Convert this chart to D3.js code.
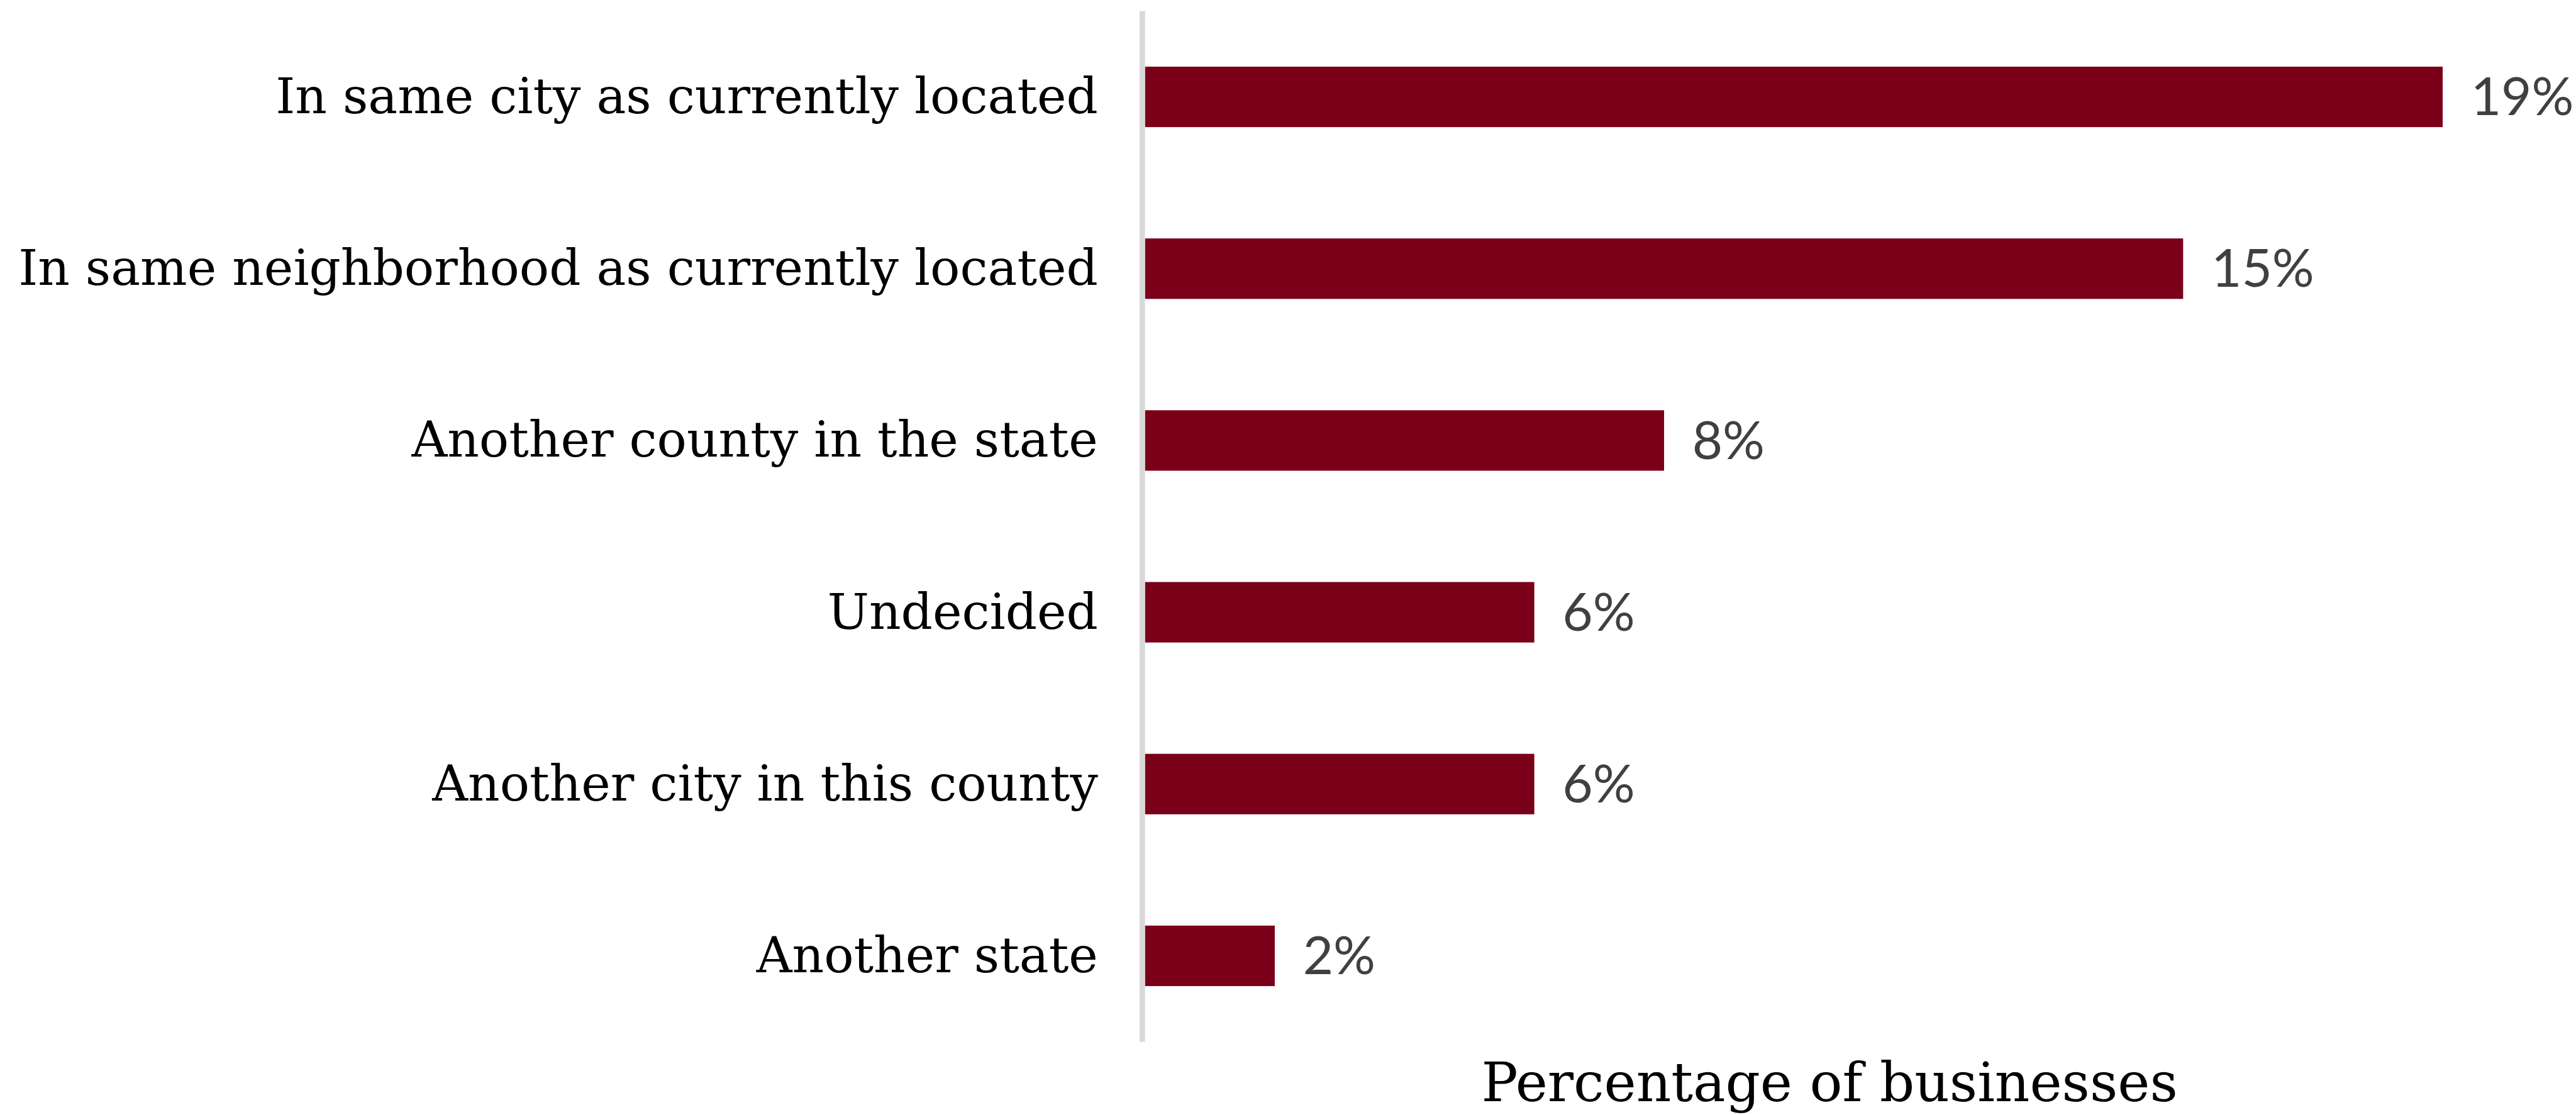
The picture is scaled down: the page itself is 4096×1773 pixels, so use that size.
<!DOCTYPE html>
<html>
<head>
<meta charset="utf-8">
<script src="https://cdn.jsdelivr.net/npm/d3@7"></script>
<style>
  html, body { margin: 0; padding: 0; background: #ffffff; }
  svg { display: block; }
</style>
</head>
<body>
<script>
// Where businesses plan to move
const categories = [
  "In same city as currently located",
  "In same neighborhood as currently located",
  "Another county in the state",
  "Undecided",
  "Another city in this county",
  "Another state"
];
const shares = [19.0, 15.2, 7.6, 5.7, 5.7, 1.9];
const axisTitle = "Percentage of businesses";

const W = 4096, H = 1773;
const k = 0.971; // drawing is laid out on a 4215 x 1825 grid, then scaled

const svg = d3.select("body").append("svg")
  .attr("width", W).attr("height", H);
const root = svg.append("g").attr("transform", `scale(${k})`);

const axisX = 1870.5;
const x = d3.scaleLinear()
  .domain([0, d3.max(shares)])
  .range([1875, 4000]);
const y = d3.scaleBand()
  .domain(categories)
  .range([18, 1706])
  .paddingInner(0.648)
  .paddingOuter(0.324);

const rows = categories.map((c, i) => ({ c, v: shares[i] }));

// bars
root.append("g").selectAll("rect")
  .data(rows)
  .join("rect")
  .attr("x", x(0))
  .attr("y", d => y(d.c))
  .attr("width", d => x(d.v) - x(0))
  .attr("height", y.bandwidth())
  .attr("fill", "#7a001a");

// value labels
const fmt = v => d3.format(".0f")(v) + "%";
root.append("g").selectAll("text")
  .data(rows)
  .join("text")
  .attr("x", d => x(d.v) + 46)
  .attr("y", d => y(d.c) + y.bandwidth() / 2)
  .attr("dy", "0.35em")
  .attr("font-family", "Lato, 'Open Sans', sans-serif")
  .attr("font-size", 86)
  .attr("fill", "#404040")
  .text(d => fmt(d.v));

// category axis
const yAxis = d3.axisLeft(y)
  .tickSize(0)
  .tickSizeOuter(0)
  .tickPadding(72.5);
const ag = root.append("g")
  .attr("transform", `translate(${axisX},0)`)
  .call(yAxis);
ag.select(".domain")
  .attr("stroke", "#d9d9d9")
  .attr("stroke-width", 9)
  .attr("d", `M0,18V1706`);
ag.selectAll(".tick text")
  .attr("font-family", "'DejaVu Serif', serif")
  .attr("font-size", 81)
  .attr("fill", "#000000")
  .attr("dy", "0.33em");

// axis title
root.append("text")
  .attr("x", 2996)
  .attr("y", 1803)
  .attr("text-anchor", "middle")
  .attr("font-family", "'DejaVu Serif', serif")
  .attr("font-size", 89)
  .attr("fill", "#000000")
  .text(axisTitle);
</script>
</body>
</html>
